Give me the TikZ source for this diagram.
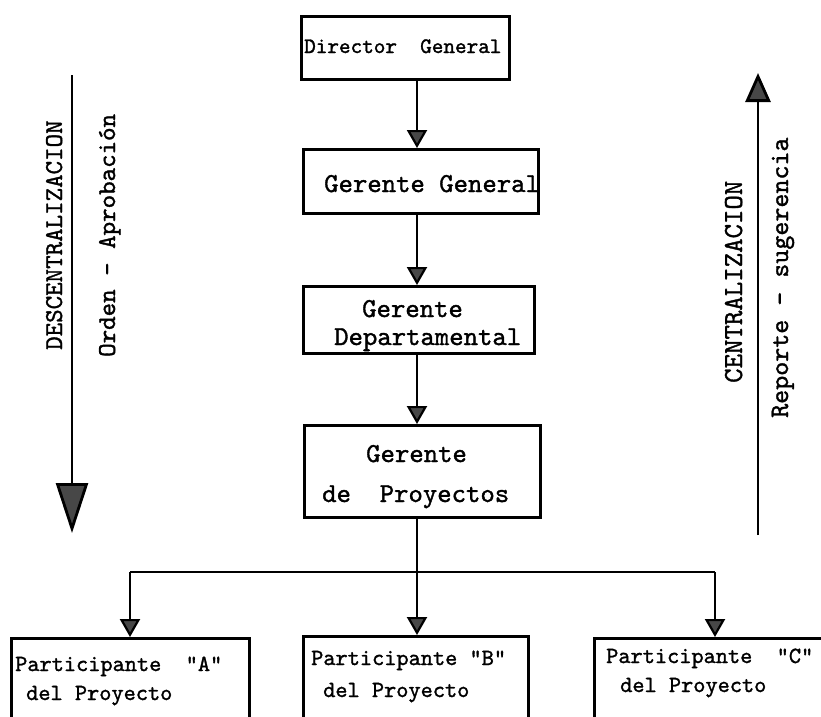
\documentclass[tikz,border=0pt]{standalone}
\usepackage{fontspec}
\newfontfamily\tw{lmmono10-regular.otf}[FakeBold=1.3]
\usetikzlibrary{arrows.meta}
\begin{document}
\begin{tikzpicture}[x=1pt,y=-1pt,
  box/.style={draw,line width=2.6pt,anchor=north west,inner sep=0pt},
  txt/.style={anchor=base west,inner sep=0pt},
  big/.style={font=\tw\fontsize{27.4pt}{30pt}\selectfont},
  small/.style={font=\tw\fontsize{23.2pt}{28pt}\selectfont},
  dgfont/.style={font=\tw\fontsize{22.1pt}{26pt}\selectfont},
  side/.style={font=\tw\fontsize{#1}{28pt}\selectfont,anchor=base west,inner sep=0pt,rotate=90},
  link/.style={line width=2.2pt,-{Triangle[width=20pt,length=18pt,fill=black!72]}},
  plain/.style={line width=2.2pt}]
\useasboundingbox (0,0) rectangle (821,716);
\clip (0,0) rectangle (821,716);

% ---- boxes of the hierarchy
\node[box,minimum width=208pt,minimum height=63pt] (dg) at (300,15) {};
\node[box,minimum width=235pt,minimum height=64pt] (gg) at (302,148) {};
\node[box,minimum width=231pt,minimum height=67pt] (gd) at (302,285) {};
\node[box,minimum width=236pt,minimum height=92pt] (gp) at (303,424) {};
\node[box,minimum width=238pt,minimum height=100pt] (pa) at (10,637) {};
\node[box,minimum width=225pt,minimum height=100pt] (pb) at (302,635) {};
\node[box,minimum width=240pt,minimum height=100pt] (pc) at (593,637) {};

% ---- box texts
\node[txt,dgfont] (dgT) at (304,53) {Director~~General};
\node[txt,big] (ggT) at (324,192) {Gerente General};
\node[txt,big] (gdT1) at (362,317) {Gerente};
\node[txt,big] (gdT2) at (334,345) {Departamental};
\node[txt,big] (gpT1) at (366,462) {Gerente};
\node[txt,big] (gpT2) at (322,502) {de~~Proyectos};
\node[txt,small] (paT1) at (15,671) {Participante~~"A"};
\node[txt,small] (paT2) at (26,700) {del Proyecto};
\node[txt,small] (pbT1) at (311,665) {Participante "B"};
\node[txt,small] (pbT2) at (323,697) {del Proyecto};
\node[txt,small] (pcT1) at (606,663) {Participante~~"C"};
\node[txt,small] (pcT2) at (620,692) {del Proyecto};

% ---- chain of command
\coordinate (spine) at (417,0);
\draw[link] (dg.south -| spine) -- (gg.north -| spine);
\draw[link] (gg.south -| spine) -- (gd.north -| spine);
\draw[link] (gd.south -| spine) -- (gp.north -| spine);

% ---- distribution bar to the participants
\coordinate (busA) at (130,572);
\coordinate (busC) at (715,572);
\draw[plain] (gp.south -| spine) -- (busA -| spine);
\draw[plain] (busA) -- (busC);
\draw[link] (busA) -- (pa.north -| busA);
\draw[link] (busA -| spine) -- (pb.north -| spine);
\draw[link] (busC) -- (pc.north -| busC);

% ---- side arrows
\coordinate (downTail) at (72,75);
\coordinate (downTip) at (72,533);
\draw[line width=2.8pt,-{Triangle[width=32pt,length=50pt,fill=black!72]}] (downTail) -- (downTip);
\node[side=25.7pt] (descLbl) at (62,350) {DESCENTRALIZACION};
\node[side=25.7pt] (ordenLbl) at (115,357) {Orden - Aprobación};

\coordinate (upTail) at (758,535);
\coordinate (upTip) at (758,73);
\draw[line width=2.8pt,-{Triangle[width=25pt,length=29pt,fill=black!72]}] (upTail) -- (upTip);
\node[side=27.5pt] (centLbl) at (742,383) {CENTRALIZACION};
\node[side=26.7pt] (repLbl) at (788,418) {Reporte - sugerencia};
\end{tikzpicture}
\end{document}
